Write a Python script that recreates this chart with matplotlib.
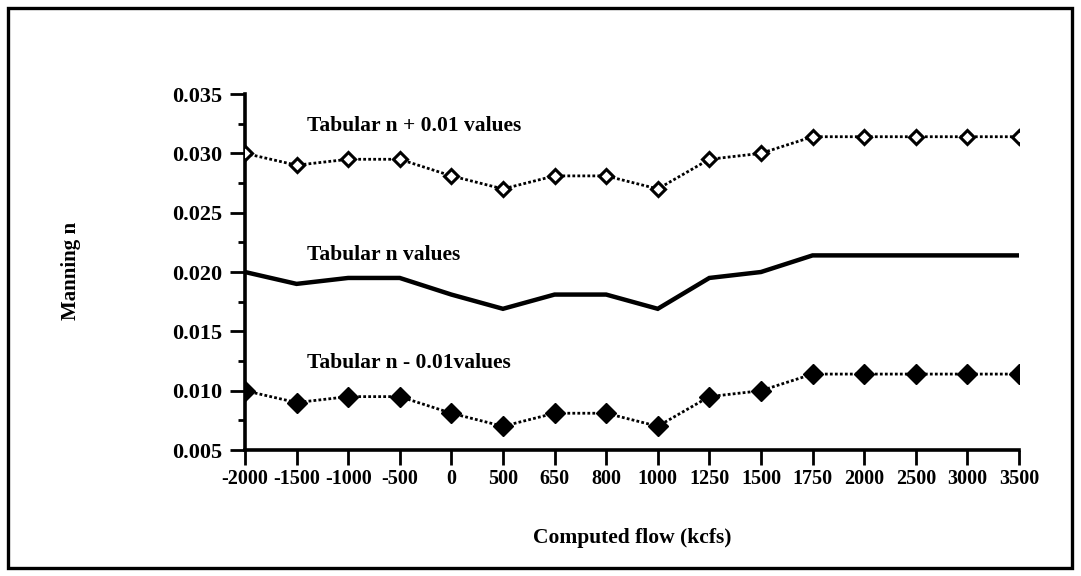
import matplotlib
matplotlib.use("Agg")
import matplotlib.pyplot as plt
from matplotlib.patches import Rectangle
from matplotlib.ticker import MultipleLocator

# data
flows = ["-2000", "-1500", "-1000", "-500", "0", "500", "650", "800", "1000",
         "1250", "1500", "1750", "2000", "2500", "3000", "3500"]
n_plus = [0.0300, 0.0290, 0.0295, 0.0295, 0.0281, 0.0270, 0.0281, 0.0281, 0.0270,
          0.0295, 0.0300, 0.0314, 0.0314, 0.0314, 0.0314, 0.0314]
n_tab = [0.0200, 0.0190, 0.0195, 0.0195, 0.0181, 0.0169, 0.0181, 0.0181, 0.0169,
         0.0195, 0.0200, 0.0214, 0.0214, 0.0214, 0.0214, 0.0214]
n_minus = [0.0100, 0.0090, 0.0095, 0.0095, 0.0081, 0.0070, 0.0081, 0.0081, 0.0070,
           0.0095, 0.0100, 0.0114, 0.0114, 0.0114, 0.0114, 0.0114]

FONT = "Liberation Serif"
plt.rcParams["font.family"] = FONT
plt.rcParams["font.weight"] = "bold"

fig = plt.figure(figsize=(10.81, 5.76), dpi=100, facecolor="white")
ax = fig.add_axes([0.2266, 0.2187, 0.7160, 0.6181])
x = range(len(flows))

ax.plot(x, n_plus, color="black", lw=2.0, ls=(0, (1, 0.8)), marker="D", ms=7.5,
        mfc="white", mec="black", mew=2.2, zorder=3)
ax.plot(x, n_tab, color="black", lw=3.2, solid_joinstyle="miter", zorder=3)
ax.plot(x, n_minus, color="black", lw=2.0, ls=(0, (1, 0.8)), marker="D", ms=10,
        mfc="black", mec="black", zorder=3)

ax.set_xlim(0, len(flows) - 1)
ax.set_ylim(0.005, 0.035)
ax.set_xticks(list(x), flows)
ax.yaxis.set_major_locator(MultipleLocator(0.005))
ax.yaxis.set_minor_locator(MultipleLocator(0.0025))
ax.set_yticklabels([f"{v:.3f}" for v in ax.get_yticks()])

for s in ["top", "right"]:
    ax.spines[s].set_visible(False)
for s in ["left", "bottom"]:
    ax.spines[s].set_linewidth(2.6)
ax.tick_params(axis="x", direction="out", length=11, width=2, labelsize=14.5, pad=3)
ax.tick_params(axis="y", which="major", direction="out", length=11, width=2, labelsize=16, pad=5)
ax.tick_params(axis="y", which="minor", direction="out", length=5, width=2)
for lab in ax.get_xticklabels() + ax.get_yticklabels():
    lab.set_fontweight("bold")

ax.set_xlabel("Computed flow (kcfs)", fontsize=15.5, fontweight="bold", labelpad=28)
fig.text(0.066, 0.53, "Manning n", rotation=90, ha="center", va="center",
         fontsize=15, fontweight="bold")

# series labels placed in data units (curve labels, not a legend)
ax.text(1.2, 0.0323, "Tabular n + 0.01 values", fontsize=15.5, fontweight="bold", va="center")
ax.text(1.2, 0.0214, "Tabular n values", fontsize=15.5, fontweight="bold", va="center")
ax.text(1.2, 0.0123, "Tabular n - 0.01values", fontsize=15.5, fontweight="bold", va="center")

fig.patches.append(Rectangle((8 / 1081, 8 / 576), 1064 / 1081, 560 / 576,
                             transform=fig.transFigure, fill=False, lw=2.4,
                             edgecolor="black"))

fig.savefig("out.png", dpi=100, facecolor="white")
